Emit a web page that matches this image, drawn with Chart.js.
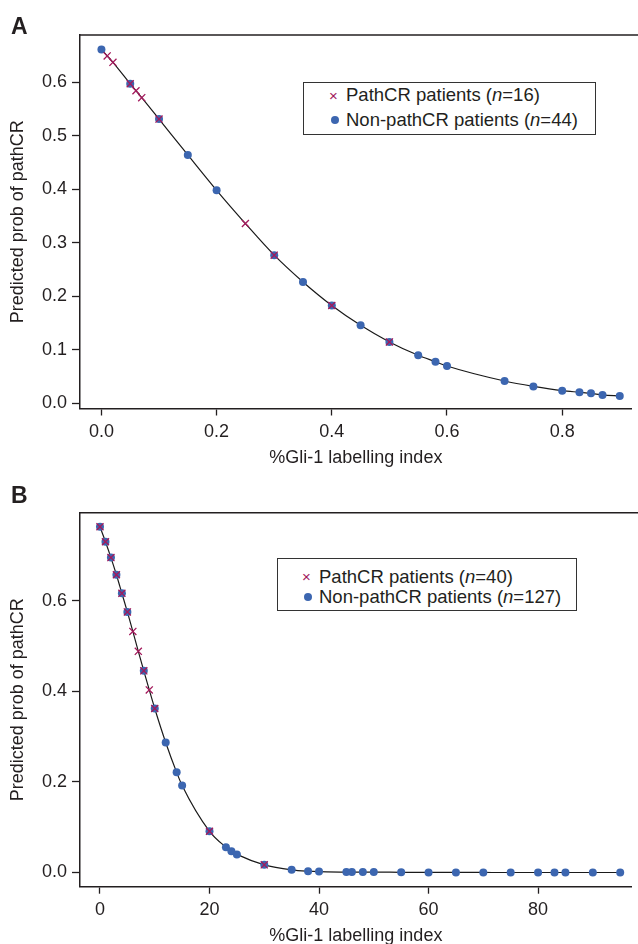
<!DOCTYPE html>
<html>
<head>
<meta charset="utf-8">
<script src="https://cdn.jsdelivr.net/npm/chart.js"></script>
<style>
  html, body { margin: 0; padding: 0; background: #fff; }
  body { width: 638px; height: 944px; position: relative; overflow: hidden;
         font-family: "Liberation Sans", Arial, Helvetica, sans-serif; color: #231f20; }
  .wrap { position: absolute; left: 0; width: 638px; height: 480px; }
  .panel-label { position: absolute; left: 11px; font-weight: bold; font-size: 23px; line-height: 1; }
  .legend { position: absolute; border: 1.5px solid #333; background: #fff; font-size: 18.5px; box-sizing: border-box; }
  .legend .row { position: absolute; left: 0; white-space: nowrap; line-height: 1; }
  .legend .mk { position: absolute; }
  .cross { color: #a3195b; font-size: 15px; }
  .dot { width: 8px; height: 8px; border-radius: 50%; background: #3c66b0; }
</style>
</head>
<body>
<div class="wrap" style="top:0"><canvas id="chartA" width="638" height="480"></canvas></div>
<div class="wrap" style="top:470px"><canvas id="chartB" width="638" height="480"></canvas></div>

<div class="panel-label" style="top:15px">A</div>
<div class="panel-label" style="top:484px">B</div>

<div class="legend" style="left:303px; top:82px; width:293px; height:53px">
  <span class="mk cross" style="left:25px; top:4px">×</span>
  <span class="mk dot" style="left:27px; top:33px"></span>
  <div class="row" style="left:42px; top:3px">PathCR patients (<i>n</i>=16)</div>
  <div class="row" style="left:42px; top:28px">Non-pathCR patients (<i>n</i>=44)</div>
</div>

<div class="legend" style="left:277px; top:558px; width:300px; height:53px">
  <span class="mk cross" style="left:24px; top:9px">×</span>
  <span class="mk dot" style="left:26px; top:34px"></span>
  <div class="row" style="left:41px; top:9px">PathCR patients (<i>n</i>=40)</div>
  <div class="row" style="left:41px; top:29px">Non-pathCR patients (<i>n</i>=127)</div>
</div>

<script>
// Panel A: %Gli-1 labelling index (fraction) vs predicted prob of pathCR
const nonA_x = [0, 0.05, 0.1, 0.15, 0.2, 0.3, 0.35, 0.4, 0.45, 0.5, 0.55, 0.58, 0.6, 0.7, 0.75, 0.8, 0.83, 0.85, 0.87, 0.9];
const nonA_y = [0.661, 0.597, 0.531, 0.464, 0.398, 0.277, 0.227, 0.183, 0.146, 0.115, 0.090, 0.078, 0.070, 0.042, 0.032, 0.024, 0.021, 0.019, 0.016, 0.014];
const pathA_x = [0.01, 0.02, 0.05, 0.06, 0.07, 0.1, 0.25, 0.3, 0.4, 0.5];
const pathA_y = [0.649, 0.637, 0.597, 0.584, 0.571, 0.531, 0.336, 0.277, 0.183, 0.115];
const xTicksA = [0, 0.2, 0.4, 0.6, 0.8];
const yTicksA = [0, 0.1, 0.2, 0.3, 0.4, 0.5, 0.6];

// Panel B: %Gli-1 labelling index (percent)
const nonB_x = [0, 1, 2, 3, 4, 5, 8, 10, 12, 14, 15, 20, 23, 24, 25, 30, 35, 38, 40, 45, 46, 48, 50, 55, 60, 65, 70, 75, 80, 83, 85, 90, 95];
const nonB_y = [0.763, 0.730, 0.695, 0.657, 0.616, 0.575, 0.445, 0.362, 0.287, 0.221, 0.192, 0.091, 0.056, 0.047, 0.040, 0.017, 0.006, 0.003, 0.002, 0.001, 0.001, 0.001, 0.001, 0.0005, 0.0003, 0.0002, 0.0001, 0, 0, 0, 0, 0, 0];
const pathB_x = [0, 1, 2, 3, 4, 5, 6, 7, 8, 9, 10, 20, 30];
const pathB_y = [0.763, 0.730, 0.695, 0.657, 0.616, 0.575, 0.532, 0.488, 0.445, 0.403, 0.362, 0.091, 0.017];
const xTicksB = [0, 20, 40, 60, 80];
const yTicksB = [0, 0.2, 0.4, 0.6];

const INK = '#231f20';
const FONT = '"Liberation Sans", Arial, Helvetica, sans-serif';

const toPoints = (xs, ys) => xs.map((x, i) => ({ x: x, y: ys[i] }));

// fitted curve goes through every patient, so join both groups sorted by x
function curve(xs1, ys1, xs2, ys2) {
  const seen = {};
  toPoints(xs1, ys1).concat(toPoints(xs2, ys2)).forEach(p => { seen[p.x] = p; });
  return Object.values(seen).sort((a, b) => a.x - b.x);
}

// top frame line (right side runs off the page)
const topFrame = {
  id: 'topFrame',
  afterDraw(chart) {
    const a = chart.chartArea, ctx = chart.ctx;
    ctx.save();
    ctx.strokeStyle = INK;
    ctx.lineWidth = 1.5;
    ctx.beginPath();
    ctx.moveTo(a.left - 0.75, a.top);
    ctx.lineTo(chart.width, a.top);
    ctx.stroke();
    ctx.restore();
  }
};

function makePanel(id, o) {
  new Chart(document.getElementById(id), {
    type: 'scatter',
    data: {
      datasets: [
        { label: 'PathCR', data: toPoints(o.pathX, o.pathY), pointStyle: 'crossRot',
          pointRadius: 5, borderColor: '#a3195b', borderWidth: 1.3, backgroundColor: '#a3195b' },
        { label: 'Non-pathCR', data: toPoints(o.nonX, o.nonY), pointStyle: 'circle',
          pointRadius: 4, borderWidth: 0, backgroundColor: '#3c66b0' },
        { label: 'fit', data: curve(o.nonX, o.nonY, o.pathX, o.pathY), showLine: true,
          pointRadius: 0, borderColor: '#1a1a1a', borderWidth: 1.2, cubicInterpolationMode: 'monotone' }
      ]
    },
    options: {
      responsive: false,
      animation: false,
      events: [],
      layout: { padding: { top: o.top, left: 0, right: 0, bottom: o.bottom } },
      plugins: { legend: { display: false }, tooltip: { enabled: false } },
      scales: {
        x: {
          type: 'linear', min: o.xMin, max: o.xMax,
          afterBuildTicks: s => { s.ticks = o.xTicks.map(v => ({ value: v })); },
          afterFit: s => { s.height = o.xHeight; },
          ticks: { font: { family: FONT, size: 18 }, color: INK, padding: 6,
                   callback: v => o.xDec ? v.toFixed(1) : String(v) },
          grid: { drawOnChartArea: false, drawTicks: true, tickLength: 7, tickColor: INK, tickWidth: 1.3 },
          border: { display: true, color: INK, width: 1.5 },
          title: { display: true, text: '%Gli-1 labelling index', color: INK,
                   font: { family: FONT, size: 18 }, padding: { top: 0, bottom: 0 } }
        },
        y: {
          type: 'linear', min: o.yMin, max: o.yMax,
          afterBuildTicks: s => { s.ticks = o.yTicks.map(v => ({ value: v })); },
          afterFit: s => { s.width = 80; },
          ticks: { font: { family: FONT, size: 18 }, color: INK, padding: 5,
                   callback: v => v.toFixed(1) },
          grid: { drawOnChartArea: false, drawTicks: true, tickLength: 8, tickColor: INK, tickWidth: 1.3 },
          border: { display: true, color: INK, width: 1.5 },
          title: { display: true, text: 'Predicted prob of pathCR', color: INK,
                   font: { family: FONT, size: 18 }, padding: { top: 7, bottom: 0 } }
        }
      }
    },
    plugins: [topFrame]
  });
}

makePanel('chartA', {
  nonX: nonA_x, nonY: nonA_y, pathX: pathA_x, pathY: pathA_y,
  xTicks: xTicksA, yTicks: yTicksA, xDec: true,
  xMin: -0.0372, xMax: 0.9207, yMin: -0.0093, yMax: 0.688,
  top: 35, bottom: 11.2, xHeight: 60.3
});

makePanel('chartB', {
  nonX: nonB_x, nonY: nonB_y, pathX: pathB_x, pathY: pathB_y,
  xTicks: xTicksB, yTicks: yTicksB, xDec: false,
  xMin: -3.65, xMax: 97.1, yMin: -0.0313, yMax: 0.794,
  top: 42.7, bottom: 3.2, xHeight: 60.1
});
</script>
</body>
</html>
